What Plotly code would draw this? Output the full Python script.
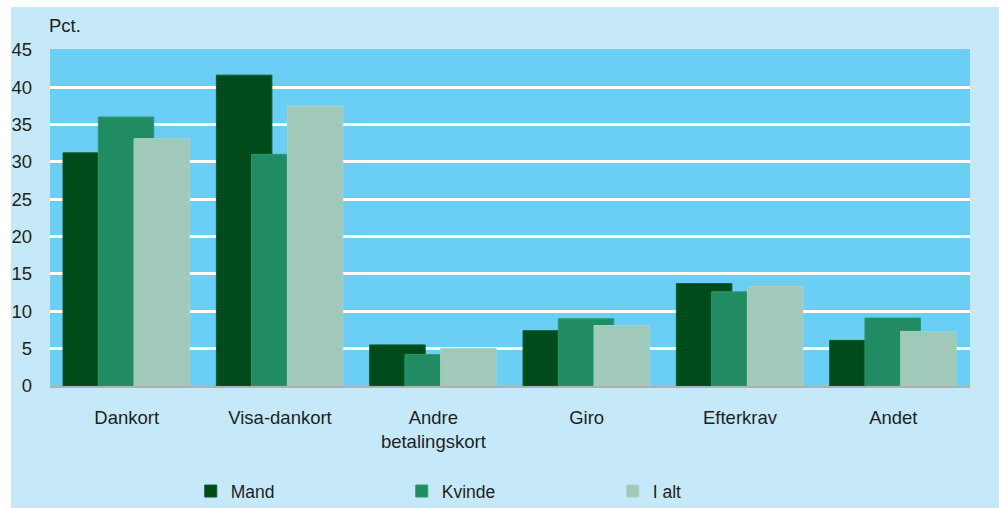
import plotly.graph_objects as go

categories = ["Dankort", "Visa-dankort", "Andre<br>betalingskort", "Giro", "Efterkrav", "Andet"]
mand = [31.2, 41.6, 5.5, 7.4, 13.7, 6.1]
kvinde = [36.0, 31.0, 4.2, 9.0, 12.6, 9.1]
i_alt = [33.1, 37.5, 5.0, 8.1, 13.3, 7.3]
y_ticks = [0, 5, 10, 15, 20, 25, 30, 35, 40, 45]

FONT = "Liberation Sans, Arial, sans-serif"
series = [
    ("Mand", mand, "#004B1A", "#0B5A2A", -0.415),
    ("Kvinde", kvinde, "#218C63", "#2E9A72", -0.185),
    ("I alt", i_alt, "#A1C9B9", "#A9D0C0", 0.048),
]

fig = go.Figure()
for name, vals, col, edge, off in series:
    fig.add_trace(go.Bar(
        x=categories, y=vals, name=name,
        marker=dict(color=col, line=dict(color=edge, width=1)),
        width=0.362, offset=off,
    ))

fig.update_layout(
    width=999, height=508,
    barmode="overlay",
    paper_bgcolor="#C6E9F9",
    plot_bgcolor="#6ACEF5",
    margin=dict(l=50, r=29, t=49, b=122, autoexpand=False),
    font=dict(family=FONT, size=18.5, color="#231F20"),
    showlegend=True,
    legend=dict(
        orientation="h", x=0.153, xanchor="left", y=-0.312, yanchor="middle",
        entrywidth=166, entrywidthmode="pixels",
        font=dict(size=17.5), itemwidth=30, bgcolor="rgba(0,0,0,0)",
        traceorder="normal",
    ),
    xaxis=dict(
        showgrid=False, ticks="", showline=True, linecolor="#B0B0B0", linewidth=2,
        tickfont=dict(size=18.5), ticklabelstandoff=14, automargin=False,
    ),
    yaxis=dict(
        range=[0, 45.1], tickvals=y_ticks, showgrid=True, gridcolor="white", gridwidth=2.5,
        zeroline=False, ticks="", tickfont=dict(size=18.5), ticklabelstandoff=17,
        ticklabelposition="outside", automargin=False,
    ),
    annotations=[dict(
        text="Pct.", xref="paper", yref="paper", x=-0.003, y=1.07,
        xanchor="left", yanchor="middle", showarrow=False, font=dict(size=18.5),
    )],
    shapes=[
        dict(type="rect", xref="paper", yref="paper", x0=-0.07, x1=-0.0424, y0=-0.5, y1=1.3,
             fillcolor="white", line=dict(width=0), layer="below"),
        dict(type="rect", xref="paper", yref="paper", x0=-0.07, x1=1.1, y0=1.1246, y1=1.3,
             fillcolor="white", line=dict(width=0), layer="below"),
    ],
)

fig.write_html("out.html", config={"displayModeBar": False},
               post_script="document.body.style.margin='0px';")
